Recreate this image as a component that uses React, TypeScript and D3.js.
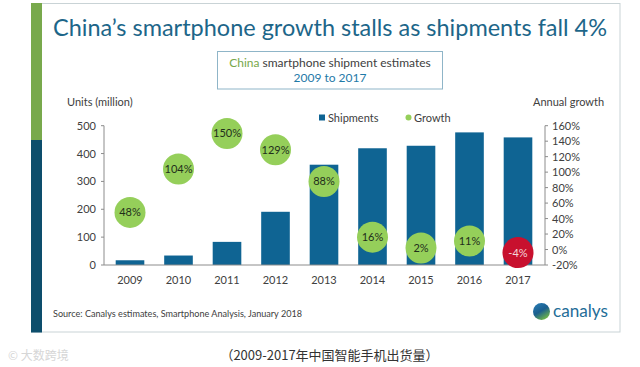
import React from "react";
import * as d3 from "d3";

const years = ["2009", "2010", "2011", "2012", "2013", "2014", "2015", "2016", "2017"];
const shipments = [17, 34, 83, 191, 360, 419, 428, 476, 458];
const growth = [48, 104, 150, 129, 88, 16, 2, 11, -4];
const leftTicks = [0, 100, 200, 300, 400, 500];
const rightTicks = [-20, 0, 20, 40, 60, 80, 100, 120, 140, 160];

const FONT = "Lato, 'Open Sans', sans-serif";
const TEAL = "#1d6689";
const BAR = "#0f6493";
const GREEN = "#95cf5a";
const RED = "#c8102e";
const AXIS = "#8c8c8c";
const TXT = "#404040";

export default function App() {
  const yTop = 125.7;
  const yBot = 265;
  const xL = 104;
  const xR = 545;
  const x = d3.scaleBand<string>().domain(years).range([105.75, 542.25]).paddingInner(0.41).paddingOuter(0.205);
  const yL = d3.scaleLinear().domain([0, 500]).range([yBot, yTop]);
  const yR = d3.scaleLinear().domain([-20, 160]).range([yBot, yTop]);
  const bw = x.bandwidth();

  return (
    <svg width={640} height={367} style={{ position: "absolute", left: 0, top: 0, background: "#fff" }} fontFamily={FONT}>
      <defs>
        <linearGradient id="globe" x1="0" y1="0" x2="0.6" y2="1">
          <stop offset="0" stopColor="#2a7fb8" />
          <stop offset="0.55" stopColor="#1b5f8f" />
          <stop offset="1" stopColor="#6db34a" />
        </linearGradient>
      </defs>
      {/* frame */}
      <rect x={31.5} y={3.5} width={588.5} height={328.5} fill="#fff" stroke="#c9d3d6" strokeWidth={1} />
      <rect x={31} y={3} width={11} height={137} fill="#78a94c" />
      <rect x={31} y={140} width={11} height={192.5} fill="#0d4e6c" />

      {/* title */}
      <text x={53} y={36} fontSize={24} fill={TEAL} textLength={554} lengthAdjust="spacingAndGlyphs">
        China’s smartphone growth stalls as shipments fall 4%
      </text>

      {/* subtitle box */}
      <rect x={217.5} y={51.5} width={225} height={37.5} fill="#fff" stroke="#8fb5c8" strokeWidth={1} />
      <text x={330} y={67} fontSize={12} textAnchor="middle" fill={TXT}>
        <tspan fill="#77a84a">China</tspan> smartphone shipment estimates
      </text>
      <text x={330} y={82} fontSize={12} textAnchor="middle" fill="#1f7aa8">2009 to 2017</text>

      {/* axis titles */}
      <text x={67} y={106} fontSize={11} fill={TXT}>Units (million)</text>
      <text x={533} y={106} fontSize={11} fill={TXT}>Annual growth</text>

      {/* legend */}
      <rect x={319} y={114.5} width={6} height={6} fill={BAR} />
      <text x={328} y={121.5} fontSize={11} fill={TXT}>Shipments</text>
      <circle cx={408.5} cy={117.5} r={3} fill={GREEN} />
      <text x={414} y={121.5} fontSize={11} fill={TXT}>Growth</text>

      {/* bars */}
      {years.map((yr, i) => (
        <rect key={yr} x={x(yr)} y={yL(shipments[i])} width={bw} height={yBot - yL(shipments[i])} fill={BAR} />
      ))}

      {/* axes */}
      <line x1={xL} x2={xL} y1={yTop} y2={yBot} stroke={AXIS} />
      <line x1={xR} x2={xR} y1={yTop} y2={yBot} stroke={AXIS} />
      <line x1={xL} x2={xR} y1={yBot} y2={yBot} stroke={AXIS} />
      {leftTicks.map((t) => (
        <g key={t}>
          <line x1={xL - 3} x2={xL} y1={yL(t)} y2={yL(t)} stroke={AXIS} />
          <text x={96} y={yL(t) + 4} fontSize={11} textAnchor="end" fill={TXT}>{t}</text>
        </g>
      ))}
      {rightTicks.map((t) => (
        <g key={t}>
          <line x1={xR} x2={xR + 3} y1={yR(t)} y2={yR(t)} stroke={AXIS} />
          <text x={552} y={yR(t) + 4} fontSize={11} fill={TXT}>{t}%</text>
        </g>
      ))}
      {years.map((yr) => (
        <text key={yr} x={(x(yr) as number) + bw / 2} y={284} fontSize={11} textAnchor="middle" fill={TXT}>{yr}</text>
      ))}

      {/* growth circles */}
      {years.map((yr, i) => {
        const cx = (x(yr) as number) + bw / 2;
        const cy = yR(growth[i]);
        const neg = growth[i] < 0;
        return (
          <g key={yr}>
            <circle cx={cx} cy={cy} r={15.5} fill={neg ? RED : GREEN} />
            <text x={cx} y={cy + 4} fontSize={11} textAnchor="middle" fill={neg ? "#f4d6da" : "#1f2e1a"}>{growth[i]}%</text>
          </g>
        );
      })}

      {/* source + logo */}
      <text x={53} y={317} fontSize={9.5} fill={TXT} textLength={249} lengthAdjust="spacingAndGlyphs">
        Source: Canalys estimates, Smartphone Analysis, January 2018
      </text>
      <circle cx={541.5} cy={311.5} r={8.5} fill="url(#globe)" />
      <text x={553} y={317} fontSize={18} fill="#1f6d98" textLength={55} lengthAdjust="spacingAndGlyphs">canalys</text>

      {/* caption */}
      <text x={8} y={360} fontSize={12} fill="#d6d6d6" fontFamily="'Noto Sans CJK SC', sans-serif">© 大数跨境</text>
      <text x={329.5} y={360} fontSize={13} textAnchor="middle" fill="#333" fontFamily="'Noto Sans CJK SC', sans-serif">（2009-2017年中国智能手机出货量）</text>
    </svg>
  );
}
